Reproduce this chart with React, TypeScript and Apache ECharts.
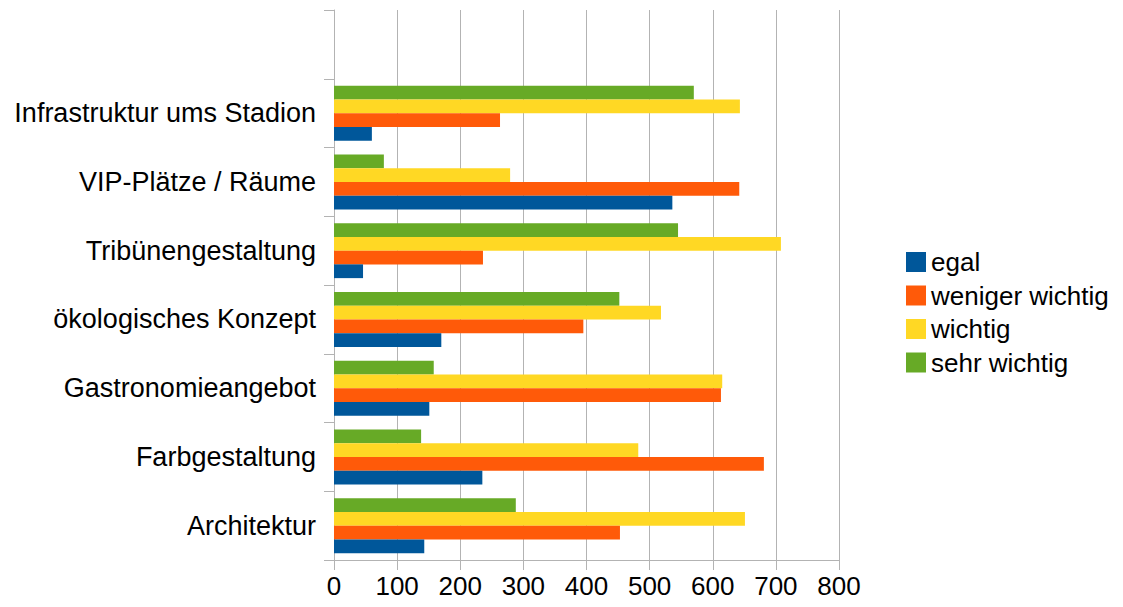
import React, { useEffect, useRef } from "react";
import * as echarts from "echarts";

const categories = [
  "Architektur",
  "Farbgestaltung",
  "Gastronomieangebot",
  "ökologisches Konzept",
  "Tribünengestaltung",
  "VIP-Plätze / Räume",
  "Infrastruktur ums Stadion",
  "",
];
const seriesNames = ["egal", "weniger wichtig", "wichtig", "sehr wichtig"];
const egal = [143, 235, 151, 170, 46, 536, 60, null];
const wenigerWichtig = [453, 681, 613, 395, 236, 642, 263, null];
const wichtig = [651, 482, 615, 518, 708, 279, 643, null];
const sehrWichtig = [288, 138, 158, 452, 545, 79, 570, null];
const colors = ["#00579a", "#ff5a09", "#ffd824", "#67aa26"];
const xTicks = { min: 0, max: 800, interval: 100 };

export default function App() {
  const ref = useRef<HTMLDivElement>(null);
  useEffect(() => {
    if (!ref.current) return;
    const chart = echarts.init(ref.current, null, { renderer: "svg" });
    const font = "'Liberation Sans', Arial, sans-serif";
    const values = [egal, wenigerWichtig, wichtig, sehrWichtig];
    // ECharts lays horizontal bar series out top-down, so draw them in reverse
    const order = [3, 2, 1, 0];
    chart.setOption({
      animation: false,
      textStyle: { fontFamily: font },
      grid: { left: 334, right: 284, top: 10, bottom: 47, containLabel: false },
      legend: {
        orient: "vertical",
        left: 901,
        top: 244,
        itemWidth: 20,
        itemHeight: 20,
        itemGap: 7.5,
        icon: "rect",
        data: seriesNames,
        textStyle: { fontSize: 26, color: "#000", fontFamily: font },
      },
      xAxis: {
        type: "value",
        min: xTicks.min,
        max: xTicks.max,
        interval: xTicks.interval,
        axisLine: { show: true, lineStyle: { color: "#b3b3b3" } },
        axisTick: { show: true, length: 10, lineStyle: { color: "#b3b3b3" } },
        splitLine: { show: true, lineStyle: { color: "#b3b3b3" } },
        axisLabel: { fontSize: 26, color: "#000", margin: 13, fontFamily: font },
      },
      yAxis: {
        type: "category",
        data: categories,
        axisLine: { show: true, lineStyle: { color: "#b3b3b3" } },
        axisTick: { show: true, length: 10, lineStyle: { color: "#b3b3b3" } },
        axisLabel: { fontSize: 27, color: "#000", margin: 18, fontFamily: font },
      },
      series: order.map((i) => ({
        name: seriesNames[i],
        type: "bar",
        data: values[i],
        itemStyle: { color: colors[i] },
        barGap: "0%",
        barCategoryGap: "20%",
      })),
    });
    return () => chart.dispose();
  }, []);
  return <div ref={ref} style={{ width: 1123, height: 607, margin: -8 }} />;
}
